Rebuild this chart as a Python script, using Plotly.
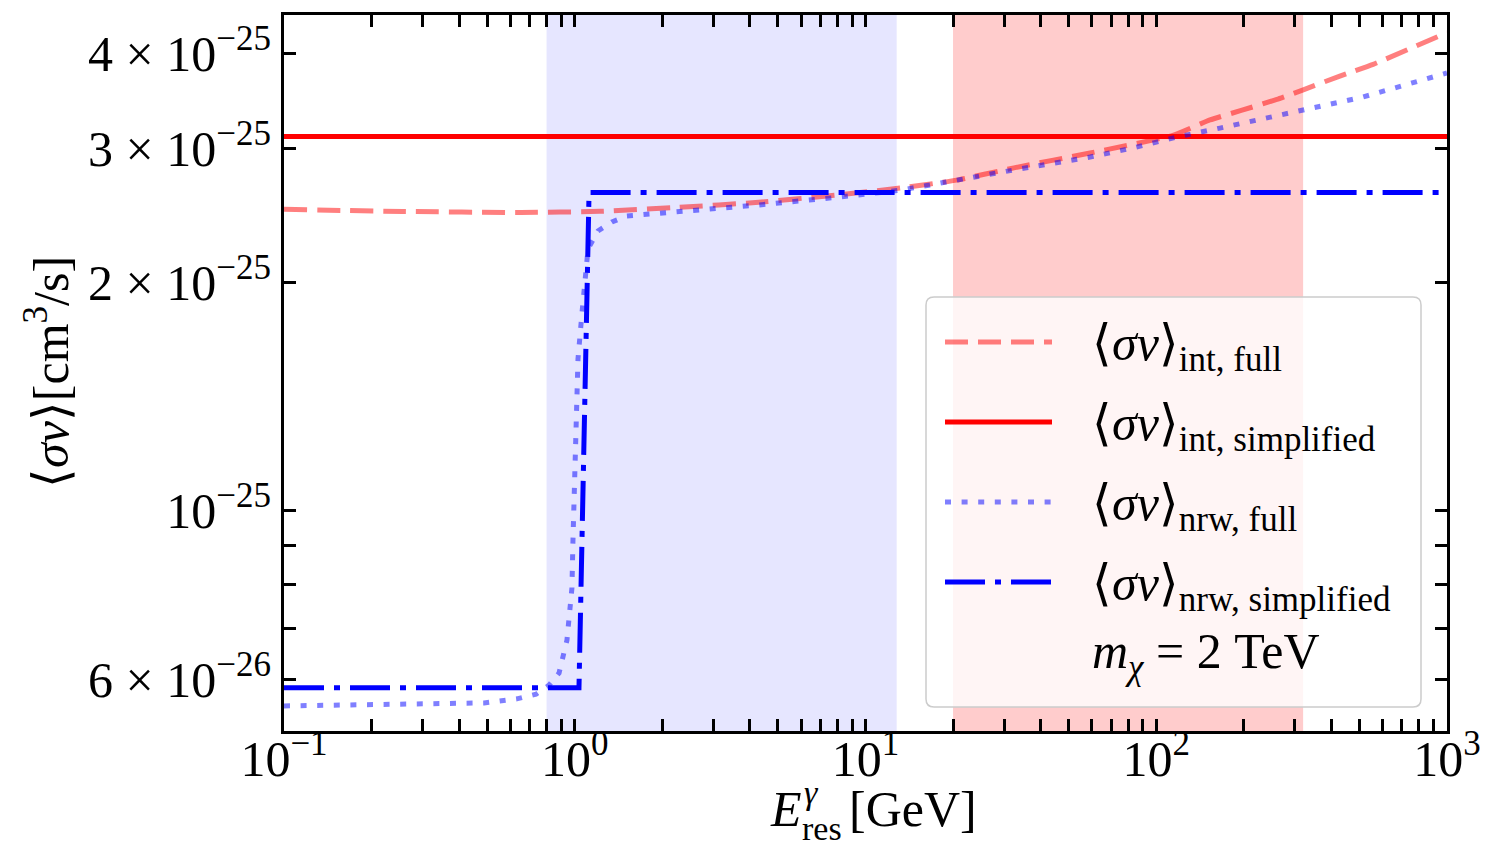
import plotly.graph_objects as go

# ---------------- data ----------------
E_int_full = [0.1, 0.256, 0.653, 1.22, 2.28, 4.29, 8.02, 13.2, 20.6, 32.4, 59.2,
              114, 153, 196, 260, 322, 428, 557, 1000]
sv_int_full = [2.494e-25, 2.478e-25, 2.470e-25, 2.479e-25, 2.509e-25, 2.548e-25,
               2.605e-25, 2.661e-25, 2.725e-25, 2.828e-25, 2.958e-25, 3.12e-25,
               3.27e-25, 3.365e-25, 3.48e-25, 3.585e-25, 3.735e-25, 3.87e-25, 4.26e-25]

E_int_simpl = [0.1, 1000]
sv_int_simpl = [3.11e-25, 3.11e-25]

E_nrw_full = [0.1, 0.488, 0.632, 0.736, 0.816, 0.883, 0.940, 0.978, 0.986, 1.002,
              1.018, 1.026, 1.059, 1.087, 1.111, 1.202, 1.343, 1.512, 2.28, 4.29,
              8.02, 13.2, 32.4, 59.2, 83.2, 120, 165.6, 312, 514, 1000]
sv_nrw_full = [5.54e-26, 5.59e-26, 5.66e-26, 5.74e-26, 5.9e-26, 6.12e-26, 6.76e-26,
               7.92e-26, 9.16e-26, 1.115e-25, 1.362e-25, 1.585e-25, 1.822e-25,
               2.032e-25, 2.212e-25, 2.336e-25, 2.401e-25, 2.445e-25, 2.476e-25,
               2.527e-25, 2.587e-25, 2.643e-25, 2.81e-25, 2.922e-25, 3.004e-25,
               3.11e-25, 3.19e-25, 3.36e-25, 3.505e-25, 3.77e-25]

E_nrw_simpl = [0.1, 1.034, 1.12, 1000]
sv_nrw_simpl = [5.852e-26, 5.852e-26, 2.625e-25, 2.625e-25]

blue_band = [0.8, 12.8]
red_band = [20, 320]

x_tickvals = [0.1, 1, 10, 100, 1000]
x_ticktext = ["10<sup>−1</sup>", "10<sup>0</sup>", "10<sup>1</sup>", "10<sup>2</sup>", "10<sup>3</sup>"]
x_minor = [m * d for d in [0.1, 1, 10, 100] for m in range(2, 10)]

y_tickvals = [6e-26, 7e-26, 8e-26, 9e-26, 1e-25, 2e-25, 3e-25, 4e-25]
y_ticktext = ["6 × 10<sup>−26</sup>", "", "", "", "10<sup>−25</sup>",
              "2 × 10<sup>−25</sup>", "3 × 10<sup>−25</sup>", "4 × 10<sup>−25</sup>"]

legend_labels = ["⟨<i>σv</i>⟩<sub>int, full</sub>",
                 "⟨<i>σv</i>⟩<sub>int, simplified</sub>",
                 "⟨<i>σv</i>⟩<sub>nrw, full</sub>",
                 "⟨<i>σv</i>⟩<sub>nrw, simplified</sub>"]

# ---------------- styling ----------------
W, H = 1495, 863
L, R, T, B = 284, 1447, 15, 731
FONT = "Liberation Serif"

c_int_full = "rgba(255,0,0,0.5)"
c_int_simpl = "rgb(255,0,0)"
c_nrw_full = "rgba(0,0,255,0.5)"
c_nrw_simpl = "rgb(0,0,255)"
d_dash = "23px,10px"
d_dot = "6px,10.6px"
d_dashdot = "40px,10px,6px,10px"
LW = 5

styles = [(c_int_full, d_dash), (c_int_simpl, "solid"),
          (c_nrw_full, d_dot), (c_nrw_simpl, d_dashdot)]
shapes_line = ["spline", "linear", "linear", "linear"]

def px2x(px):
    return (px - L) / (R - L)

def px2y(py):
    return (B - py) / (B - T)

fig = go.Figure()
series = [(E_int_full, sv_int_full), (E_int_simpl, sv_int_simpl),
          (E_nrw_full, sv_nrw_full), (E_nrw_simpl, sv_nrw_simpl)]
for (xs, ys), (col, dash), name, lshape in zip(series, styles, legend_labels, shapes_line):
    line = dict(color=col, width=LW, dash=dash, shape=lshape)
    if lshape == "spline":
        line["smoothing"] = 0.4
    fig.add_trace(go.Scatter(x=xs, y=ys, mode="lines", name=name, showlegend=False,
                             line=line))

shapes = []
# shaded bands
shapes.append(dict(type="rect", xref="x", yref="paper", x0=blue_band[0], x1=blue_band[1],
                   y0=0, y1=1, fillcolor="rgb(230,230,255)", line_width=0, layer="below"))
shapes.append(dict(type="rect", xref="x", yref="paper", x0=red_band[0], x1=red_band[1],
                   y0=0, y1=1, fillcolor="rgb(255,204,204)", line_width=0, layer="below"))

# legend frame (rounded)
bx0, bx1, by0, by1 = px2x(926), px2x(1421), px2y(707), px2y(297)
rx, ry = 8 / (R - L), 8 / (B - T)
path = (f"M{bx0+rx},{by0} L{bx1-rx},{by0} Q{bx1},{by0} {bx1},{by0+ry} "
        f"L{bx1},{by1-ry} Q{bx1},{by1} {bx1-rx},{by1} L{bx0+rx},{by1} "
        f"Q{bx0},{by1} {bx0},{by1-ry} L{bx0},{by0+ry} Q{bx0},{by0} {bx0+rx},{by0} Z")
shapes.append(dict(type="path", xref="paper", yref="paper", path=path,
                   fillcolor="rgba(255,255,255,0.8)", line=dict(color="#cccccc", width=1.5),
                   layer="above"))

handle_y = [342, 422, 502, 582]
annotations = []
for hy, (col, dash), lab in zip(handle_y, styles, legend_labels):
    shapes.append(dict(type="line", xref="paper", yref="paper",
                       x0=px2x(945), x1=px2x(1052), y0=px2y(hy), y1=px2y(hy),
                       line=dict(color=col, width=LW, dash=dash), layer="above"))
    annotations.append(dict(xref="paper", yref="paper", x=px2x(1090), y=px2y(hy + 5),
                            xanchor="left", yanchor="middle", text=lab, showarrow=False,
                            font=dict(family=FONT, size=50, color="black")))
annotations.append(dict(xref="paper", yref="paper", x=px2x(1090), y=px2y(655),
                        xanchor="left", yanchor="middle",
                        text="<i>m</i><sub><i>χ</i></sub> = 2 TeV", showarrow=False,
                        font=dict(family=FONT, size=50, color="black")))

# axis titles
annotations.append(dict(xref="paper", yref="paper", x=px2x(47), y=px2y(372),
                        xanchor="center", yanchor="middle", textangle=-90,
                        text="⟨<i>σv</i>⟩[cm<sup>3</sup>/s]", showarrow=False,
                        font=dict(family=FONT, size=50, color="black")))
annotations.append(dict(xref="paper", yref="paper", x=px2x(804), y=px2y(809),
                        xanchor="right", yanchor="middle", text="<i>E</i>", showarrow=False,
                        font=dict(family=FONT, size=50, color="black")))
annotations.append(dict(xref="paper", yref="paper", x=px2x(802), y=px2y(792),
                        xanchor="left", yanchor="middle", text="<i>γ</i>", showarrow=False,
                        font=dict(family=FONT, size=34, color="black")))
annotations.append(dict(xref="paper", yref="paper", x=px2x(800), y=px2y(828),
                        xanchor="left", yanchor="middle", text="res", showarrow=False,
                        font=dict(family=FONT, size=34, color="black")))
annotations.append(dict(xref="paper", yref="paper", x=px2x(847), y=px2y(809),
                        xanchor="left", yanchor="middle", text="[GeV]", showarrow=False,
                        font=dict(family=FONT, size=50, color="black")))

all_xticks = sorted(x_tickvals + x_minor)
all_xtext = [x_ticktext[x_tickvals.index(v)] if v in x_tickvals else "" for v in all_xticks]

fig.update_layout(
    width=W, height=H, autosize=False, template="none",
    margin=dict(l=L, r=W - R, t=T, b=H - B, pad=0),
    paper_bgcolor="white", plot_bgcolor="white",
    shapes=shapes, annotations=annotations, showlegend=False,
    font=dict(family=FONT, size=50, color="black"),
)
fig.update_xaxes(type="log", range=[-1, 3], tickvals=all_xticks, ticktext=all_xtext,
                 ticks="inside", ticklen=12, tickwidth=2.5, tickcolor="black",
                 showline=True, linewidth=3, linecolor="black", mirror="ticks",
                 showgrid=False, zeroline=False, automargin=False,
                 ticklabelstandoff=-18,
                 tickfont=dict(family=FONT, size=50, color="black"))
fig.update_yaxes(type="log", range=[-25.2895, -24.3474], tickvals=y_tickvals,
                 ticktext=y_ticktext, ticks="inside", ticklen=12, tickwidth=2.5,
                 tickcolor="black", showline=True, linewidth=3, linecolor="black",
                 mirror="ticks", showgrid=False, zeroline=False, automargin=False,
                 tickfont=dict(family=FONT, size=50, color="black"))

fig.write_html("out.html")
